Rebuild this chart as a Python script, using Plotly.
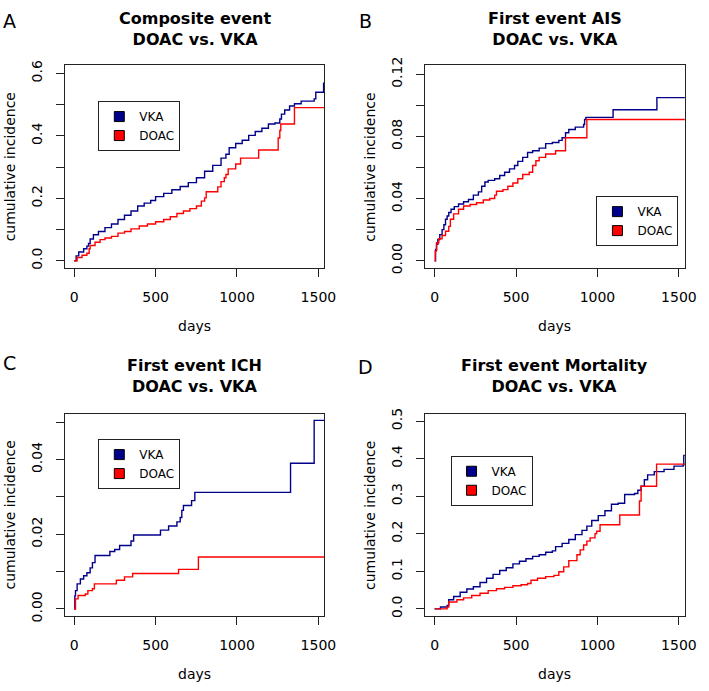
import plotly.graph_objects as go

# ---- data (days, cumulative incidence) ----
# A: composite event
a_vka_days = [0, 12, 28, 58, 78, 88, 98, 118, 149, 189, 229, 269, 309, 349, 390, 430, 470, 500, 550, 600, 651,
              701, 751, 801, 851, 902, 932, 952, 992, 1032, 1072, 1112, 1153, 1193, 1233, 1263, 1273, 1293,
              1323, 1353, 1394, 1474, 1484, 1532, 1537]
a_vka_ci = [0, 0.0157, 0.0282, 0.0386, 0.047, 0.0553, 0.0699, 0.0835, 0.0939, 0.1064, 0.1179, 0.1325, 0.1461,
            0.1597, 0.1753, 0.1847, 0.1931, 0.2056, 0.216, 0.2275, 0.2379, 0.2504, 0.2661, 0.287, 0.3057,
            0.3287, 0.3412, 0.3621, 0.3757, 0.3861, 0.4018, 0.4143, 0.4247, 0.4383, 0.4414, 0.4539, 0.4696,
            0.4831, 0.4957, 0.503, 0.5113, 0.5186, 0.5395, 0.5687, 0.5687]
a_doac_days = [0, 18, 48, 78, 92, 98, 128, 159, 189, 229, 269, 309, 349, 400, 450, 500, 550, 590, 631, 671, 711,
               751, 781, 801, 811, 882, 902, 922, 932, 946, 992, 1022, 1133, 1253, 1263, 1269, 1353, 1537]
a_doac_ci = [0, 0.0104, 0.0177, 0.024, 0.0386, 0.049, 0.0595, 0.0678, 0.073, 0.0783, 0.0887, 0.0939, 0.1023,
             0.1117, 0.1179, 0.1252, 0.1325, 0.1409, 0.1513, 0.1597, 0.167, 0.1753, 0.191, 0.2014, 0.2212,
             0.2369, 0.2536, 0.2661, 0.2765, 0.2943, 0.3099, 0.3287, 0.3548, 0.3934, 0.4174, 0.4383, 0.4905,
             0.4905]

# B: first event AIS
b_vka_days = [0, 6, 12, 20, 32, 46, 57, 67, 77, 87, 101, 121, 147, 178, 208, 238, 269, 289, 309, 329, 369, 400,
              430, 460, 491, 511, 541, 571, 602, 642, 682, 723, 763, 783, 804, 824, 864, 915, 921, 929, 1096,
              1365, 1537]
b_vka_ci = [0, 0.0074, 0.0106, 0.0137, 0.0169, 0.0201, 0.0232, 0.0268, 0.0289, 0.0311, 0.0332, 0.0349,
            0.0366, 0.038, 0.0395, 0.0423, 0.0444, 0.048, 0.0507, 0.0518, 0.0528, 0.0549, 0.057, 0.0592,
            0.0613, 0.064, 0.0666, 0.0697, 0.0708, 0.0725, 0.0754, 0.0761, 0.0775, 0.0792, 0.0824, 0.0845,
            0.086, 0.0877, 0.0909, 0.0923, 0.0972, 0.105, 0.105]
b_doac_days = [0, 4, 12, 26, 46, 67, 87, 97, 117, 147, 178, 218, 258, 299, 339, 369, 380, 420, 450, 481, 511,
               541, 581, 602, 622, 642, 682, 743, 804, 935, 1537]
b_doac_ci = [0, 0.0063, 0.0116, 0.0142, 0.0163, 0.019, 0.0222, 0.0268, 0.0302, 0.0332, 0.0353, 0.0363,
             0.0374, 0.0391, 0.0401, 0.0423, 0.0448, 0.0458, 0.048, 0.0501, 0.0528, 0.0556, 0.057, 0.0613,
             0.0644, 0.0666, 0.0687, 0.0708, 0.0792, 0.0909, 0.0909]

# C: first event ICH
c_vka_days = [0, 4, 8, 18, 38, 58, 78, 98, 112, 128, 219, 249, 279, 349, 365, 530, 580, 631, 651, 661, 671, 721,
              741, 1329, 1474, 1537]
c_vka_ci = [0, 0.0035, 0.0049, 0.0067, 0.008, 0.0089, 0.0097, 0.011, 0.0124, 0.0143, 0.0154, 0.0159, 0.017,
            0.0182, 0.0198, 0.0211, 0.0222, 0.0233, 0.0245, 0.0264, 0.0277, 0.029, 0.0312, 0.039, 0.0505,
            0.0505]
c_doac_days = [0, 8, 24, 68, 84, 112, 124, 259, 309, 359, 641, 763, 1537]
c_doac_ci = [0, 0.0027, 0.0036, 0.004, 0.0049, 0.0054, 0.0067, 0.0077, 0.0086, 0.0095, 0.0106, 0.0139, 0.0139]

# D: first event mortality
d_vka_days = [0, 36, 77, 87, 117, 157, 198, 238, 279, 319, 359, 400, 440, 481, 521, 561, 602, 642, 682, 723,
              743, 783, 824, 864, 905, 935, 965, 1005, 1046, 1086, 1127, 1167, 1228, 1248, 1268, 1288, 1308,
              1349, 1409, 1470, 1526, 1530, 1537]
d_vka_ci = [0, 0.0052, 0.0095, 0.0243, 0.033, 0.0443, 0.053, 0.059, 0.0703, 0.0816, 0.092, 0.1024, 0.1094,
            0.1198, 0.1267, 0.1337, 0.1398, 0.1441, 0.151, 0.1545, 0.1658, 0.1745, 0.1849, 0.1979, 0.2092,
            0.2205, 0.2352, 0.2483, 0.2613, 0.2786, 0.2813, 0.3047, 0.3073, 0.316, 0.3264, 0.3438, 0.3568,
            0.3655, 0.3715, 0.3802, 0.3828, 0.4089, 0.4089]
d_doac_days = [0, 77, 87, 137, 178, 228, 279, 329, 380, 430, 481, 531, 571, 592, 632, 682, 733, 763, 793, 824,
               874, 894, 915, 935, 955, 985, 995, 1016, 1137, 1258, 1268, 1363, 1537]
d_doac_ci = [0, 0.0052, 0.0182, 0.0243, 0.0295, 0.0356, 0.0417, 0.0486, 0.0538, 0.0573, 0.0616, 0.0642,
             0.0677, 0.0764, 0.0816, 0.0859, 0.0894, 0.099, 0.112, 0.1285, 0.1441, 0.1571, 0.1701, 0.1806,
             0.1892, 0.2005, 0.2066, 0.224, 0.25, 0.2873, 0.3264, 0.3854, 0.3854]

titles = ["Composite event", "First event AIS", "First event ICH", "First event Mortality"]
letters = ["A", "B", "C", "D"]
x_ticks = [0, 500, 1000, 1500]
y_ticks = [[0, 0.1, 0.2, 0.3, 0.4, 0.5, 0.6],
           [0, 0.02, 0.04, 0.06, 0.08, 0.10, 0.12],
           [0, 0.01, 0.02, 0.03, 0.04, 0.05],
           [0, 0.1, 0.2, 0.3, 0.4, 0.5]]
y_labels = [["0.0", "", "0.2", "", "0.4", "", "0.6"],
            ["0.00", "", "0.04", "", "0.08", "", "0.12"],
            ["0.00", "", "0.02", "", "0.04", ""],
            ["0.0", "0.1", "0.2", "0.3", "0.4", "0.5"]]
y_ranges = [[-0.024, 0.626], [-0.0048, 0.1258], [-0.002, 0.0523], [-0.02, 0.52]]

panels = [
    (a_vka_days, a_vka_ci, a_doac_days, a_doac_ci),
    (b_vka_days, b_vka_ci, b_doac_days, b_doac_ci),
    (c_vka_days, c_vka_ci, c_doac_days, c_doac_ci),
    (d_vka_days, d_vka_ci, d_doac_days, d_doac_ci),
]

VKA_COL = "#00008B"
DOAC_COL = "#FF0000"
FONT = "DejaVu Sans"
W, H = 709, 691

# plot boxes in pixels (left, right, top, bottom)
boxes = [(65.7, 330, 58.5, 265.7), (432.3, 696.7, 58.5, 265.7),
         (65.7, 330, 414, 621), (432.3, 696.7, 414, 621)]
legend_pos = [(100, 95), (606.7, 192), (100, 440), (458.3, 457)]
letter_pos = [(10, 13), (372, 13), (10, 362), (372, 366)]
title_y = [21, 21, 376, 376]

fig = go.Figure()
layout = dict(width=W, height=H, margin=dict(l=0, r=0, t=0, b=0),
              paper_bgcolor="white", plot_bgcolor="white",
              font=dict(family=FONT, size=14, color="black"))
annotations = []

for i, (vd, vc, dd, dc) in enumerate(panels):
    n = "" if i == 0 else str(i + 1)
    xa, ya = "x" + n, "y" + n
    leg = "legend" + n
    fig.add_trace(go.Scatter(x=vd, y=vc, mode="lines", line=dict(color=VKA_COL, width=1.4, shape="hv"),
                             xaxis=xa, yaxis=ya, showlegend=False))
    fig.add_trace(go.Scatter(x=dd, y=dc, mode="lines", line=dict(color=DOAC_COL, width=1.4, shape="hv"),
                             xaxis=xa, yaxis=ya, showlegend=False))
    for name, col in (("VKA", VKA_COL), ("DOAC", DOAC_COL)):
        fig.add_trace(go.Scatter(x=[None], y=[None], mode="markers", name=name, xaxis=xa, yaxis=ya,
                                 marker=dict(symbol="square", size=10, color=col,
                                             line=dict(color="black", width=1)),
                                 legend=leg))

    l, r, t, b = boxes[i]
    axis_common = dict(showline=True, mirror=True, linecolor="#222", linewidth=1, ticks="outside",
                       ticklen=8, tickcolor="#222", showgrid=False, zeroline=False,
                       tickfont=dict(family=FONT, size=14, color="black"), ticklabelstandoff=8)
    layout["xaxis" + n] = dict(axis_common, domain=[l / W, r / W], range=[-59, 1537],
                               tickvals=x_ticks, anchor=ya)
    layout["yaxis" + n] = dict(axis_common, domain=[1 - b / H, 1 - t / H], range=y_ranges[i],
                               tickvals=y_ticks[i], ticktext=y_labels[i], tickangle=-90, anchor=xa)
    lx, ly = legend_pos[i]
    layout[leg] = dict(x=lx / W, y=1 - ly / H, xanchor="left", yanchor="top", bgcolor="white",
                       bordercolor="#222", borderwidth=1, font=dict(family=FONT, size=12, color="black"),
                       itemwidth=30, tracegroupgap=0, traceorder="normal")

    cx = (l + r) / 2
    annotations.append(dict(x=cx / W, y=1 - title_y[i] / H, xref="paper", yref="paper", showarrow=False,
                            text="<b>" + titles[i] + "<br>DOAC vs. VKA</b>", xanchor="center", yanchor="middle",
                            font=dict(family=FONT, size=16, color="black")))
    annotations.append(dict(x=cx / W, y=1 - (b + 59) / H, xref="paper", yref="paper", showarrow=False,
                            text="days", xanchor="center", yanchor="middle",
                            font=dict(family=FONT, size=14, color="black")))
    annotations.append(dict(x=(l - 56) / W, y=1 - (t + b) / 2 / H, xref="paper", yref="paper", showarrow=False,
                            text="cumulative incidence", textangle=-90, xanchor="center", yanchor="middle",
                            font=dict(family=FONT, size=14, color="black")))
    px_, py_ = letter_pos[i]
    annotations.append(dict(x=px_ / W, y=1 - py_ / H, xref="paper", yref="paper", showarrow=False,
                            text=letters[i], xanchor="center", yanchor="middle",
                            font=dict(family=FONT, size=19, color="black")))

layout["annotations"] = annotations
fig.update_layout(**layout)
# the page body has a default 8px margin; drop it so the figure sits at the window corner
fig.write_html("out.html", config={"displayModeBar": False},
               post_script="document.body.style.margin='0';")
